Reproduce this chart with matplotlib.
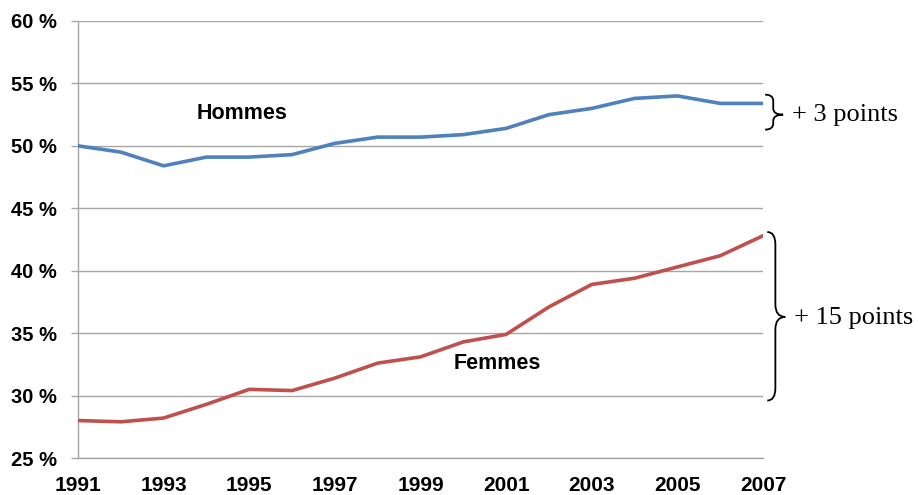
import matplotlib
matplotlib.use("Agg")
import matplotlib.pyplot as plt
from matplotlib.path import Path
from matplotlib.patches import PathPatch
from matplotlib.ticker import FuncFormatter

# Data (share of each sex, in %)
years = list(range(1991, 2008))
hommes = [50.0, 49.5, 48.4, 49.1, 49.1, 49.3, 50.2, 50.7, 50.7, 50.9,
          51.4, 52.5, 53.0, 53.8, 54.0, 53.4, 53.4]
femmes = [28.0, 27.9, 28.2, 29.3, 30.5, 30.4, 31.4, 32.6, 33.1, 34.3,
          34.9, 37.1, 38.9, 39.4, 40.3, 41.2, 42.8]
series_labels = ["Hommes", "Femmes"]
brace_labels = ["+ 3 points", "+ 15 points"]
x_ticks = list(range(1991, 2008, 2))
y_ticks = list(range(25, 61, 5))

plt.rcParams["font.family"] = ["Liberation Sans", "DejaVu Sans"]

fig = plt.figure(figsize=(9.18, 4.95), dpi=100)
ax = fig.add_axes([78 / 918, 37 / 495, 685 / 918, 437 / 495])

grid_col = "#A6A6A6"
ax.plot(years, hommes, color="#4F81BD", lw=2.6, solid_capstyle="round", zorder=3)
ax.plot(years, femmes, color="#C0504D", lw=2.6, solid_capstyle="round", zorder=3)

ax.set_xlim(1991, 2007)
ax.set_ylim(25, 60)
ax.set_yticks(y_ticks)
ax.set_xticks(x_ticks)
ax.yaxis.set_major_formatter(FuncFormatter(lambda v, p: f"{v:.0f} %"))
ax.grid(axis="y", color=grid_col, lw=1)
ax.set_axisbelow(True)

for s in ["top", "right"]:
    ax.spines[s].set_visible(False)
for s in ["left", "bottom"]:
    ax.spines[s].set_color(grid_col)
    ax.spines[s].set_linewidth(1)

ax.tick_params(axis="y", length=5, width=1, color=grid_col, pad=10,
               labelsize=14.5)
ax.tick_params(axis="x", length=0, pad=13, labelsize=15)
for lab in ax.get_xticklabels() + ax.get_yticklabels():
    lab.set_fontweight("bold")

# Series labels
ax.text(1994.83, 52.6, series_labels[0], fontsize=15.5, fontweight="bold",
        ha="center", va="center")
ax.text(2000.8, 32.6, series_labels[1], fontsize=15.5, fontweight="bold",
        ha="center", va="center")


def brace(ax, x0, w, y_top, y_bot, y_tip, r):
    xm = x0 + w * 0.45
    verts = [(x0, y_top), (xm, y_top), (xm, y_top - r),
             (xm, y_tip + r), (xm, y_tip), (x0 + w, y_tip),
             (xm, y_tip), (xm, y_tip - r),
             (xm, y_bot + r), (xm, y_bot), (x0, y_bot)]
    codes = [Path.MOVETO, Path.CURVE3, Path.CURVE3,
             Path.LINETO, Path.CURVE3, Path.CURVE3,
             Path.CURVE3, Path.CURVE3,
             Path.LINETO, Path.CURVE3, Path.CURVE3]
    patch = PathPatch(Path(verts, codes), fill=False, lw=1.3, color="black",
                      clip_on=False)
    ax.add_patch(patch)


brace(ax, 2007.05, 0.42, 54.1, 51.3, 52.5, 0.5)
brace(ax, 2007.1, 0.42, 43.1, 29.6, 36.3, 1.0)

ax.text(2007.68, 52.5, brace_labels[0], fontsize=19, family="Liberation Serif",
        ha="left", va="center")
ax.text(2007.72, 36.2, brace_labels[1], fontsize=19, family="Liberation Serif",
        ha="left", va="center")

fig.savefig("out.png", dpi=100)
